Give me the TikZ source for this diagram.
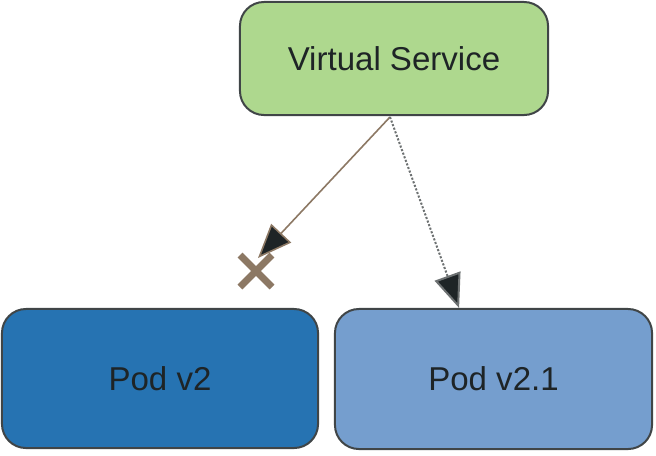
\documentclass[tikz,border=0pt]{standalone}
\usepackage{fontspec}
\setmainfont{Liberation Sans}
\usetikzlibrary{arrows.meta}
\usetikzlibrary{positioning}
\definecolor{vsgreen}{RGB}{174, 216, 142}
\definecolor{podblue}{RGB}{38, 115, 178}
\definecolor{podlight}{RGB}{117, 158, 206}
\definecolor{routebrown}{RGB}{140, 120, 100}
\definecolor{inkdark}{RGB}{30, 36, 38}
\tikzset{
  box/.style={draw=inkdark!85, line width=0.05cm, rounded corners=0.6cm, text=inkdark,
    font=\fontsize{23.5}{28}\selectfont},
  tip/.style={-{Triangle[length=0.85cm, width=0.68cm, fill=inkdark]}},
}

\begin{document}
\begin{tikzpicture}[x=0.025cm, y=-0.025cm]
    \useasboundingbox (0, 0) rectangle (656, 455);

    \node [box, fill=vsgreen, minimum width=7.7cm, minimum height=2.825cm] (vs) at (394, 58.5) {Virtual Service};
    \node [box, fill=podblue, minimum width=7.9cm, minimum height=3.475cm] (podold) at (160, 378.5) {Pod v2};
    \node [box, fill=podlight, minimum width=7.925cm, minimum height=3.5cm] (podnew) at (493.5, 379) {Pod v2.1};

    \coordinate (src) at (390, 117);
    \coordinate (blocked) at (258, 258);
    \coordinate (cross) at (256, 271);

    \draw [tip, routebrown, line width=0.04cm] (src) -- (blocked);
    \draw [tip, inkdark!65, line width=0.05cm, dash pattern=on 1.5pt off 1.2pt] (src) -- ([xshift=-0.86cm]podnew.north);

    \draw [routebrown, line width=0.17cm] (cross) ++(-16, -16) -- ++(32, 32);
    \draw [routebrown, line width=0.17cm] (cross) ++(16, -16) -- ++(-32, 32);
  \end{tikzpicture}
\end{document}
